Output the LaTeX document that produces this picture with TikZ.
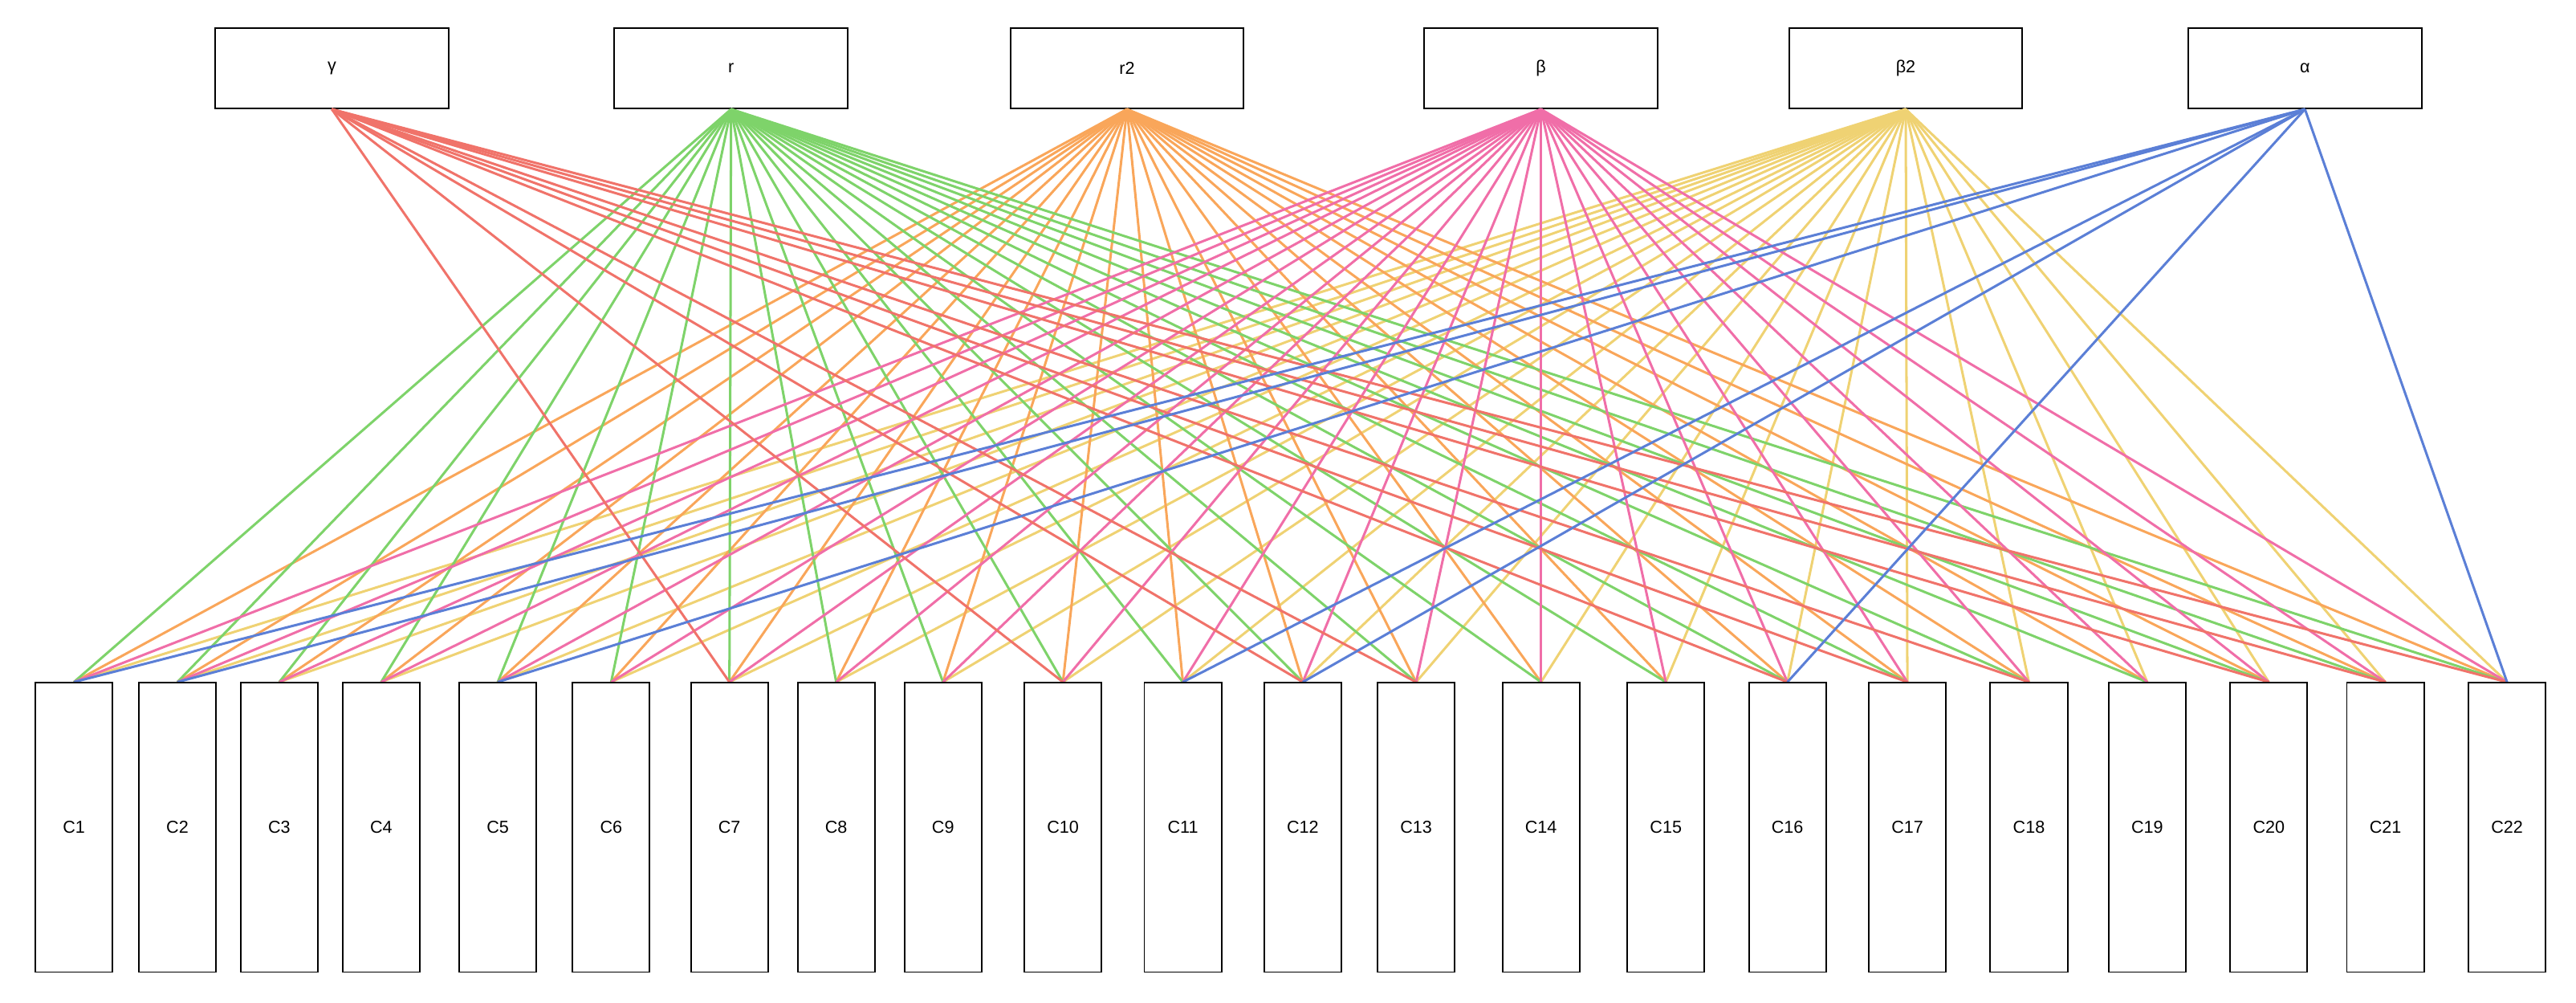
\documentclass[tikz,border=0pt]{standalone}
\usepackage{fontspec}
\setmainfont{Liberation Sans}
\begin{document}
\begin{tikzpicture}[x=0.5mm,y=-0.5mm,
  top/.style={draw=black,line width=1.3pt,fill=white,minimum width=71mm,minimum height=24.5mm,inner sep=0pt,font=\fontsize{15}{17}\selectfont},
  bot/.style={draw=black,line width=1.3pt,fill=white,minimum width=23.5mm,minimum height=88mm,inner sep=0pt,font=\fontsize{15}{17}\selectfont},
  lk/.style={line width=2.1pt}]
\useasboundingbox (0,0) rectangle (1568,610);
\definecolor{cg}{HTML}{F0736A}
\definecolor{cr}{HTML}{7ED36A}
\definecolor{cr2}{HTML}{F9A65A}
\definecolor{cb}{HTML}{F06EA8}
\definecolor{cb2}{HTML}{EFD273}
\definecolor{ca}{HTML}{5B7FD6}
\node[top] (g) at (202,41.5) {γ};
\node[top] (r) at (445,41.5) {r};
\node[top] (r2) at (686,41.5) {r2};
\node[top] (b) at (938,41.5) {β};
\node[top] (b2) at (1160,41.5) {β2};
\node[top] (a) at (1403,41.5) {α};
\foreach \i/\x in {1/45,2/108,3/170,4/232,5/303,6/372,7/444,8/509,9/574,10/647,11/720,12/793,13/862,14/938,15/1014,16/1088,17/1161,18/1235,19/1307,20/1381,21/1452,22/1526}{
  \coordinate (t\i) at (\x,415);
}
\begin{scope}[lk]
\foreach \i in {1,...,22}{\draw[cb2] (b2.south) -- (t\i);}
\foreach \i in {1,...,22}{\draw[cr2] (r2.south) -- (t\i);}
\foreach \i in {1,...,22}{\draw[cr] (r.south) -- (t\i);}
\foreach \i in {1,...,22}{\draw[cb] (b.south) -- (t\i);}
\foreach \i in {7,10,12,13,16,17,18,20,21,22}{\draw[cg] (g.south) -- (t\i);}
\foreach \i in {1,2,5,11,12,16,22}{\draw[ca] (a.south) -- (t\i);}
\end{scope}
\foreach \i/\x in {1/45,2/108,3/170,4/232,5/303,6/372,7/444,8/509,9/574,10/647,11/720,12/793,13/862,14/938,15/1014,16/1088,17/1161,18/1235,19/1307,20/1381,21/1452,22/1526}{
  \node[bot,anchor=north] (c\i) at (\x,415) {C\i};
}
\end{tikzpicture}
\end{document}
